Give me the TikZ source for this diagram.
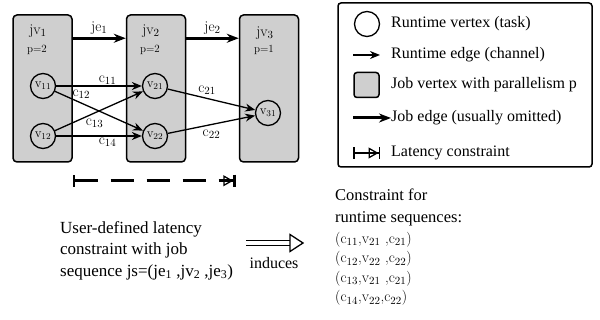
\documentclass[tikz,border=0pt]{standalone}
\usepackage{fontspec}
\usepackage{tikz}
\usetikzlibrary{arrows.meta,positioning}
\newfontfamily\legendfont{Liberation Serif}
\definecolor{jobgray}{HTML}{CFCFCF}

\begin{document}
\begin{tikzpicture}[x=1pt,y=-1pt,
    jobvertex/.style={draw, line width=1.5pt, fill=jobgray, rounded corners=4pt,
      minimum width=59pt, minimum height=147pt},
    task/.style={circle, draw, line width=1.3pt, inner sep=0pt, minimum size=25pt,
      font=\fontsize{13}{13}\selectfont},
    channel/.style={line width=1.3pt, -{Stealth[length=10pt,width=8pt]}},
    jobedge/.style={line width=3pt, -{Stealth[length=12pt,width=9pt]}},
    latency/.style={line width=2.5pt, {Bar[width=12pt]}-{Triangle[open,length=10pt,width=11pt,line width=1.3pt]Bar[width=12pt]}},
    lbl/.style={font=\fontsize{15}{15}\selectfont, inner sep=1pt},
    legtext/.style={anchor=west, inner sep=0pt, font=\legendfont\fontsize{16}{16}\selectfont}
  ]
  \useasboundingbox (0,0) rectangle (600,320);

  % job vertices
  \node[jobvertex] (jv1) at (42.5,88.5) {};
  \node[jobvertex] (jv2) at (156,88.5) {};
  \node[jobvertex] (jv3) at (269,88.5) {};
  \node[lbl] (jv1name) at (38,31) {jv$_1$};
  \node[lbl, font=\fontsize{11}{11}\selectfont] (jv1p) at (37,50) {p=2};
  \node[lbl] (jv2name) at (151,31) {jv$_2$};
  \node[lbl, font=\fontsize{11}{11}\selectfont] (jv2p) at (150,50) {p=2};
  \node[lbl] (jv3name) at (265,33) {jv$_3$};
  \node[lbl, font=\fontsize{11}{11}\selectfont] (jv3p) at (264,50) {p=1};

  % job edges
  \draw[jobedge] ([yshift=-24]jv1.north east) -- node[lbl, above=1pt] {je$_1$} ([yshift=-24]jv2.north west);
  \draw[jobedge] ([yshift=-24]jv2.north east) -- node[lbl, above=1pt] {je$_2$} ([yshift=-24]jv3.north west);

  % runtime vertices
  \node[task] (v11) at (43,86) {v$_{11}$};
  \node[task] (v12) at (43,136) {v$_{12}$};
  \node[task] (v21) at (155,86) {v$_{21}$};
  \node[task] (v22) at (155,136) {v$_{22}$};
  \node[task] (v31) at (268,113) {v$_{31}$};

  % channels
  \draw[channel] (v11) -- node[lbl, pos=0.6, above] {c$_{11}$} (v21);
  \draw[channel] (v11) -- node[lbl, pos=0.3, above=3pt] {c$_{12}$} (v22);
  \draw[channel] (v12) -- node[lbl, pos=0.45, below=4pt] {c$_{13}$} (v21);
  \draw[channel] (v12) -- node[lbl, pos=0.6, below] {c$_{14}$} (v22);
  \draw[channel] (v21) -- node[lbl, pos=0.45, above=2pt] {c$_{21}$} (v31);
  \draw[channel] (v22) -- node[lbl, pos=0.5, below=4pt] {c$_{22}$} (v31);

  % latency constraint
  \draw[latency, dash pattern=on 23pt off 13pt] ([yshift=-18]jv1.south east) -- ([xshift=-3,yshift=-18]jv3.south west);

  % legend
  \node[draw, line width=1.5pt, rounded corners=3pt, minimum width=254pt, minimum height=164pt] (legend) at (465,85) {};
  \node[task, fill=white] (lgvertex) at (367,24) {};
  \node[legtext] (lgvertextxt) at (391,24) {Runtime vertex (task)};
  \coordinate (lgchannel) at (353,55);
  \draw[channel] (lgchannel) -- +(27,0);
  \node[legtext] (lgchanneltxt) at (391,55) {Runtime edge (channel)};
  \node[draw, line width=1.5pt, fill=jobgray, rounded corners=3pt, minimum size=25pt] (lgjob) at (366.5,85) {};
  \node[legtext] (lgjobtxt) at (391,85) {Job vertex with parallelism p};
  \coordinate (lgjobedge) at (353,118);
  \draw[jobedge] (lgjobedge) -- +(38,0);
  \node[legtext] (lgjobedgetxt) at (391,118) {Job edge (usually omitted)};
  \coordinate (lglatency) at (353,153);
  \draw[latency, line width=1.5pt] (lglatency) -- +(27,0);
  \node[legtext] (lglatencytxt) at (391,153) {Latency constraint};

  % user constraint and induced sequences
  \node[legtext, anchor=north west, align=left, font=\legendfont\fontsize{17}{21.5}\selectfont] (usertxt) at (60,221)
    {User-defined latency\\constraint with job\\sequence js=(je\textsubscript{1} ,jv\textsubscript{2} ,je\textsubscript{3})};
  \node[legtext, anchor=center] (induces) at (274,263) {induces};
  \coordinate (indstart) at (246,243);
  \coordinate (indend) at (303,243);
  \draw[double, double distance=3.5pt, line width=1.3pt] (indstart) -- ([xshift=-13]indend);
  \draw[line width=1.3pt, fill=white, line join=miter] ([xshift=-13,yshift=8.5]indend) -- (indend) -- ([xshift=-13,yshift=-8.5]indend) -- cycle;
  \node[legtext, anchor=north west, align=left, font=\legendfont\fontsize{16.5}{22}\selectfont] (runtimetxt) at (335,189)
    {Constraint for\\runtime sequences:};
  \node[anchor=north west, align=left, inner sep=0pt, font=\fontsize{15}{19.5}\selectfont] (tuples) at (335,232)
    {(c$_{11}$,v$_{21}$ ,c$_{21}$)\\(c$_{12}$,v$_{22}$ ,c$_{22}$)\\(c$_{13}$,v$_{21}$ ,c$_{21}$)\\(c$_{14}$,v$_{22}$,c$_{22}$)};
\end{tikzpicture}
\end{document}
